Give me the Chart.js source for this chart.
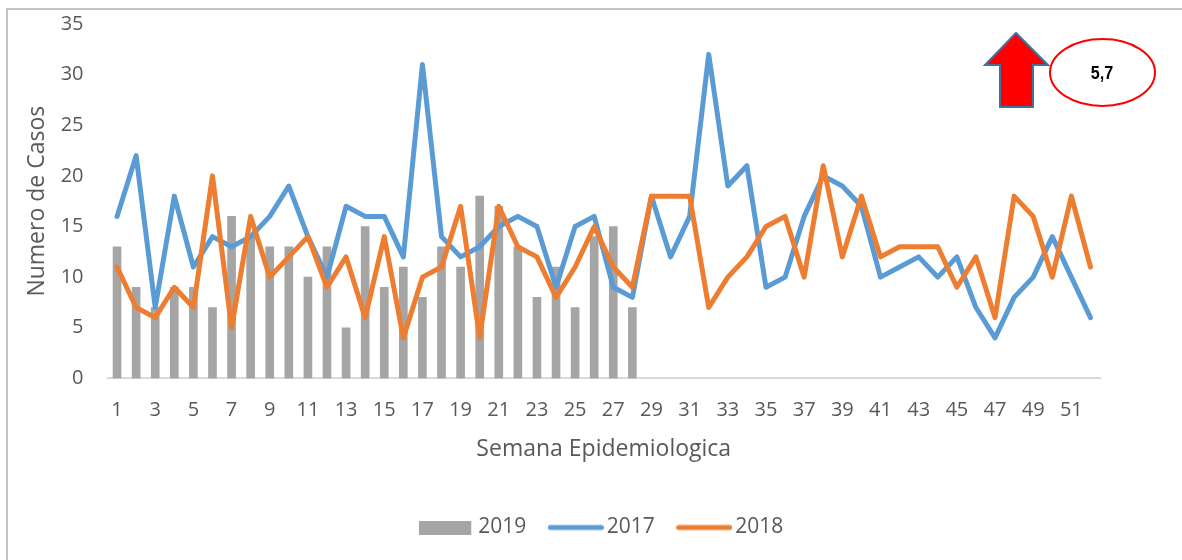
<!DOCTYPE html>
<html>
<head>
<meta charset="utf-8">
<style>
  html, body { margin: 0; background: #fff; }
  #wrap { width: 1182px; height: 560px; position: relative; }
</style>
<script src="https://cdn.jsdelivr.net/npm/chart.js@4"></script>
</head>
<body>
<div id="wrap"><canvas id="myChart" width="1182" height="560"></canvas></div>
<script>
const weeks = [1,2,3,4,5,6,7,8,9,10,11,12,13,14,15,16,17,18,19,20,21,22,23,24,25,26,27,28,29,30,31,32,33,34,35,36,37,38,39,40,41,42,43,44,45,46,47,48,49,50,51,52];
const cases2019 = [13,9,7,9,9,7,16,14,13,13,10,13,5,15,9,11,8,13,11,18,17,13,8,11,7,14,15,7];
const cases2017 = [16,22,7,18,11,14,13,14,16,19,14,10,17,16,16,12,31,14,12,13,15,16,15,9,15,16,9,8,18,12,16,32,19,21,9,10,16,20,19,17,10,11,12,10,12,7,4,8,10,14,10,6];
const cases2018 = [11,7,6,9,7,20,5,16,10,12,14,9,12,6,14,4,10,11,17,4,17,13,12,8,11,15,11,9,18,18,18,7,10,12,15,16,10,21,12,18,12,13,13,13,9,12,6,18,16,10,18,11];
const yMax = 35;
const yStep = 5;
const calloutText = '5,7';

const textColor = '#595959';
const uiFont = '"Open Sans", sans-serif';

// legend swatches, all on a 56 wide canvas so the text lines up
function swatch(w, h, color, rounded) {
    let c = document.createElement('canvas');
    c.width = 56;
    c.height = 14;
    let x = c.getContext('2d');
    let top = (14 - h) / 2;
    x.fillStyle = color;
    if (rounded) {
        x.beginPath();
        x.roundRect(0, top, w, h, h / 2);
        x.fill();
    } else {
        x.fillRect(0, top, w, h);
    }
    return c;
}

const framePlugin = {
    id: 'frame',
    beforeDraw(chart) {
        let ctx = chart.ctx;
        ctx.save();
        ctx.fillStyle = '#fff';
        ctx.fillRect(0, 0, chart.width, chart.height);
        ctx.strokeStyle = '#c4c4c4';
        ctx.lineWidth = 2;
        ctx.beginPath();
        ctx.moveTo(7, 560);
        ctx.lineTo(7, 9);
        ctx.lineTo(1182, 9);
        ctx.stroke();
        ctx.restore();
    }
};

// legend sits centred under the page, not under the plot
const legendShiftPlugin = {
    id: 'legendShift',
    afterLayout(chart) {
        chart.legend.left += 43;
        chart.legend.right += 43;
    }
};

// the arrow and the oval in the top right corner
const calloutPlugin = {
    id: 'callout',
    afterDraw(chart) {
        let ctx = chart.ctx;
        ctx.save();
        ctx.beginPath();
        ctx.moveTo(1016, 33);
        ctx.lineTo(1048, 65);
        ctx.lineTo(1033, 65);
        ctx.lineTo(1033, 107);
        ctx.lineTo(1000, 107);
        ctx.lineTo(1000, 65);
        ctx.lineTo(985, 65);
        ctx.closePath();
        ctx.fillStyle = '#ff0000';
        ctx.fill();
        ctx.strokeStyle = '#41719c';
        ctx.lineWidth = 2;
        ctx.stroke();

        ctx.beginPath();
        ctx.ellipse(1102.5, 72.5, 52.5, 33.5, 0, 0, Math.PI * 2);
        ctx.fillStyle = '#fff';
        ctx.fill();
        ctx.strokeStyle = '#ff0000';
        ctx.lineWidth = 2;
        ctx.stroke();

        ctx.fillStyle = '#000';
        ctx.font = 'bold 19px "Liberation Sans", sans-serif';
        ctx.textAlign = 'center';
        ctx.textBaseline = 'middle';
        ctx.translate(1102, 74);
        ctx.scale(0.85, 1);
        ctx.fillText(calloutText, 0, 0);
        ctx.restore();
    }
};

let ctx = document.getElementById('myChart').getContext('2d');
let myChart = new Chart(ctx, {
    type: 'bar',
    data: {
        labels: weeks,
        datasets: [
            {
                label: '2019',
                data: cases2019,
                backgroundColor: '#a5a5a5',
                barThickness: 8,
                order: 3,
                pointStyle: swatch(52, 14, '#a5a5a5', false)
            },
            {
                type: 'line',
                label: '2017',
                data: cases2017,
                borderColor: '#5b9bd5',
                backgroundColor: '#5b9bd5',
                borderWidth: 5,
                borderCapStyle: 'round',
                borderJoinStyle: 'round',
                tension: 0,
                pointRadius: 0,
                order: 2,
                pointStyle: swatch(56, 5, '#5b9bd5', true)
            },
            {
                type: 'line',
                label: '2018',
                data: cases2018,
                borderColor: '#ed7d31',
                backgroundColor: '#ed7d31',
                borderWidth: 5,
                borderCapStyle: 'round',
                borderJoinStyle: 'round',
                tension: 0,
                pointRadius: 0,
                order: 1,
                pointStyle: swatch(56, 5, '#ed7d31', true)
            }
        ]
    },
    options: {
        responsive: false,
        animation: false,
        layout: { padding: { left: 24, right: 82, top: 24, bottom: 12 } },
        plugins: {
            tooltip: { enabled: false },
            legend: {
                position: 'bottom',
                labels: {
                    usePointStyle: true,
                    pointStyleWidth: 41,
                    boxHeight: 14,
                    padding: 29,
                    color: textColor,
                    font: { family: uiFont, size: 21 },
                    sort: (a, b) => a.datasetIndex - b.datasetIndex
                }
            }
        },
        scales: {
            x: {
                offset: true,
                grid: { display: false },
                border: { color: '#d9d9d9', width: 2 },
                ticks: {
                    color: textColor,
                    font: { family: uiFont, size: 20 },
                    autoSkip: false,
                    maxRotation: 0,
                    padding: 12,
                    callback: (value, i) => i % 2 === 0 ? weeks[i] : ''
                },
                title: {
                    display: true,
                    text: 'Semana Epidemiologica',
                    color: textColor,
                    font: { family: uiFont, size: 23 },
                    padding: { top: 1, bottom: 25 }
                }
            },
            y: {
                min: 0,
                max: yMax,
                grid: { display: false },
                border: { display: false },
                afterFit(scale) {
                    scale.width = 83.5;
                    scale.paddingTop = 0;
                    scale.paddingBottom = 0;
                },
                ticks: {
                    stepSize: yStep,
                    color: textColor,
                    font: { family: uiFont, size: 20 },
                    padding: 16
                },
                title: {
                    display: true,
                    text: 'Numero de Casos',
                    color: textColor,
                    font: { family: uiFont, size: 23 },
                    padding: 0
                }
            }
        }
    },
    plugins: [framePlugin, legendShiftPlugin, calloutPlugin]
});
</script>
</body>
</html>
